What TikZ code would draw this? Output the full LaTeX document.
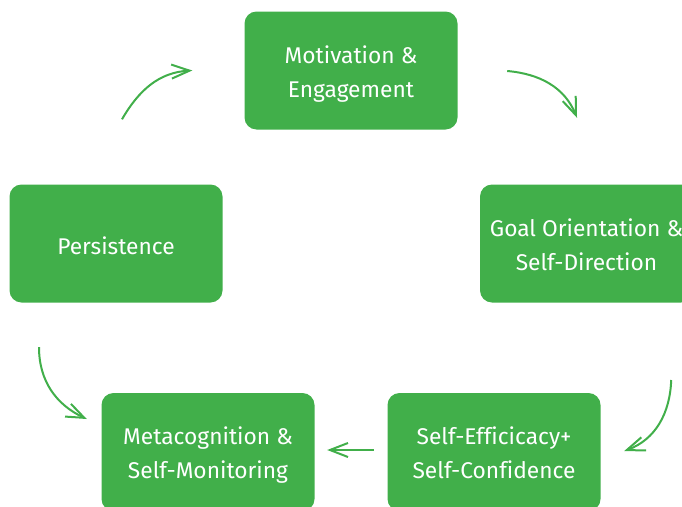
\documentclass[tikz,border=0pt]{standalone}
\usepackage{fontspec}
\setmainfont{Fira Sans}[Ligatures=CommonOff]
\usetikzlibrary{arrows.meta,calc}
\definecolor{leaf}{HTML}{41AF4A}
\tikzstyle{stage}[59pt]=[fill=leaf,rounded corners=12pt,minimum width=213pt,minimum height=118pt,text=white,align=center,inner sep=0pt,font=\fontsize{22.75}{34}\selectfont,execute at begin node={\rule[-6pt]{0pt}{\dimexpr#1+6pt\relax}}]
\tikzstyle{turn}=[draw=leaf,line width=2pt,-{Straight Barb[length=18pt,width=14pt]}]

\begin{document}
\begin{tikzpicture}[x=1pt,y=1pt]
\useasboundingbox (0,0) rectangle (682,-506);
\node[stage] (Mot) at (351,-70.5) {Motivation \&\\Engagement};
\node[stage] (Goal) at (586.5,-243.5) {Goal Orientation \&\\Self-Direction};
\node[stage=27pt] (Pers) at (116,-243.5) {Persistence};
\node[stage] (Meta) at (208,-452) {Metacognition \&\\Self-Monitoring};
\node[stage] (Eff) at (494,-452) {Self-Efficicacy+\\Self-Confidence};
\draw[turn] ($(Pers.north)+(6,65)$) to[out=60,in=183] ($(Mot.west)+(-52,0)$);
\draw[turn] ($(Mot.east)+(49.5,-0.5)$) to[out=-5,in=112] ($(Goal.north)+(-9.5,66.5)$);
\draw[turn] ($(Eff.east)+(70.5,72)$) to[out=-92,in=20] ($(Eff.east)+(23.5,1)$);
\draw[turn] ($(Eff.west)+(-13.5,2)$) -- ($(Meta.east)+(12.5,2)$);
\draw[turn] ($(Pers.south)+(-77,-44.5)$) to[out=-90,in=155] ($(Meta.west)+(-14.5,33)$);
\end{tikzpicture}
\end{document}
